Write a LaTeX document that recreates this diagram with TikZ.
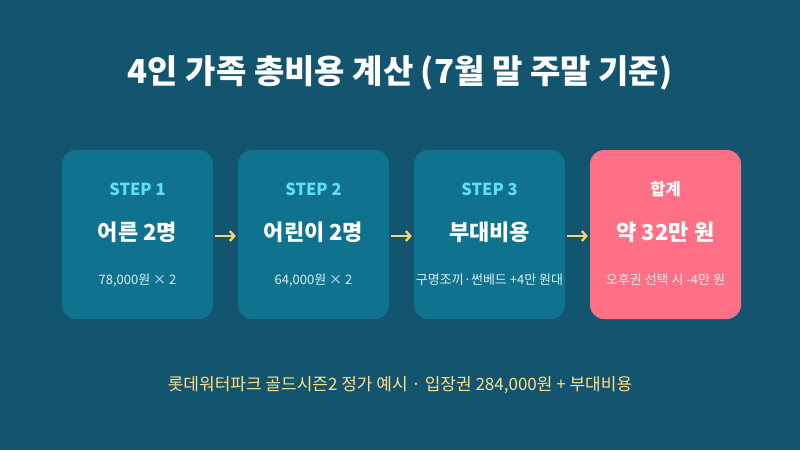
\documentclass[tikz,border=0pt]{standalone}
\usepackage{fontspec}
\setmainfont{Noto Sans CJK KR}
\newfontfamily\kr{Noto Sans CJK KR}
\usetikzlibrary{arrows.meta}
\definecolor{bg}{HTML}{13546E}
\definecolor{boxc}{HTML}{0F7390}
\definecolor{redc}{HTML}{FF6F85}
\definecolor{stepc}{HTML}{5EE0EF}
\definecolor{subc}{HTML}{DDEFF3}
\definecolor{arrc}{HTML}{FFD66B}
\definecolor{footc}{HTML}{FFE08A}
\tikzset{
  card/.style={draw=none, rounded corners=14pt, minimum width=151pt, minimum height=169pt, inner sep=0pt},
  steplbl/.style={font=\kr\bfseries\fontsize{16.5}{18}\selectfont, text=stepc},
  mainlbl/.style={font=\kr\bfseries\fontsize{22}{26}\selectfont, text=white},
  sublbl/.style={font=\kr\fontsize{13}{15}\selectfont, text=subc},
  flow/.style={draw=arrc, line width=2.4pt, -{Straight Barb[length=4.5pt,width=10pt,line width=2.2pt]}}
}
\begin{document}
\begin{tikzpicture}[x=1pt,y=-1pt]
\fill[bg] (0,0) rectangle (800,450);
\useasboundingbox (0,0) rectangle (800,450);
\node[font=\kr\bfseries\fontsize{33}{38}\selectfont, text=white] (title) at (400,73) {4인 가족 총비용 계산 (7월 말 주말 기준)};
% cards
\node[card, fill=boxc] (c1) at (137.5,234.5) {};
\node[card, fill=boxc] (c2) at (313.5,234.5) {};
\node[card, fill=boxc] (c3) at (489.5,234.5) {};
\node[card, fill=redc] (c4) at (665.5,234.5) {};
\node[steplbl] (s1) at (137.5,189) {STEP 1};
\node[steplbl] (s2) at (313.5,189) {STEP 2};
\node[steplbl] (s3) at (489.5,189) {STEP 3};
\node[steplbl, text=white] (s4) at (665.5,189) {합계};
\node[mainlbl] (m1) at (137.5,232) {어른 2명};
\node[mainlbl] (m2) at (313.5,232) {어린이 2명};
\node[mainlbl] (m3) at (489.5,232) {부대비용};
\node[mainlbl] (m4) at (665.5,232) {약 32만 원};
\node[sublbl] (t1) at (137.5,280) {78,000원 × 2};
\node[sublbl] (t2) at (313.5,280) {64,000원 × 2};
\node[sublbl] (t3) at (489.5,280) {구명조끼·썬베드 +4만 원대};
\node[sublbl] (t4) at (665.5,280) {오후권 선택 시 -4만 원};
\draw[flow] ([xshift=2pt,yshift=-1.5pt]c1.east) -- ([xshift=-2pt,yshift=-1.5pt]c2.west);
\draw[flow] ([xshift=2pt,yshift=-1.5pt]c2.east) -- ([xshift=-2pt,yshift=-1.5pt]c3.west);
\draw[flow] ([xshift=2pt,yshift=-1.5pt]c3.east) -- ([xshift=-2pt,yshift=-1.5pt]c4.west);
\node[font=\kr\fontsize{17}{20}\selectfont, text=footc] (foot) at (400,385) {롯데워터파크 골드시즌2 정가 예시 · 입장권 284,000원 + 부대비용};
\end{tikzpicture}
\end{document}
